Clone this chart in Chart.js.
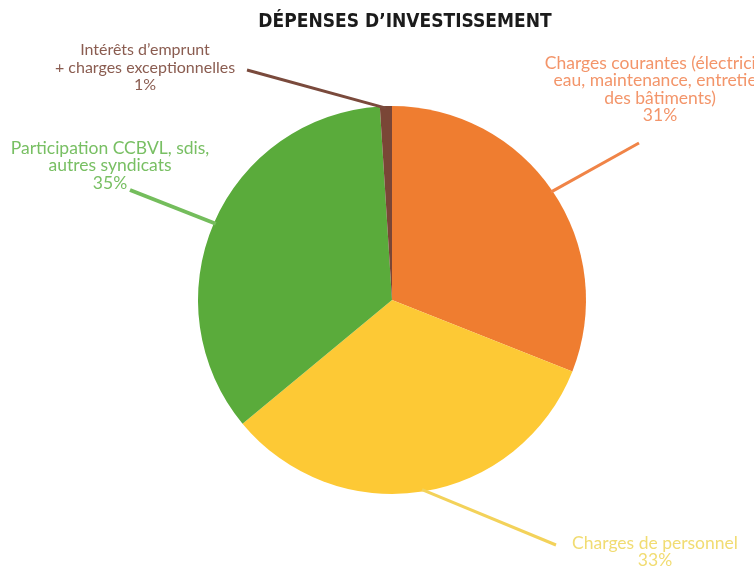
<!DOCTYPE html>
<html>
<head>
<meta charset="utf-8">
<script src="https://cdn.jsdelivr.net/npm/chart.js@4.4.1/dist/chart.umd.min.js"></script>
<style>
  html, body { margin: 0; padding: 0; background: #fff; }
  #graph { display: block; }
</style>
</head>
<body>
<canvas id="graph" width="754" height="566"></canvas>
<script>
// data (percent of spending)
const categories = [
    ['Charges courantes (électricité,', 'eau, maintenance, entretien', 'des bâtiments)'],
    ['Charges de personnel'],
    ['Participation CCBVL, sdis,', 'autres syndicats'],
    ["Intérêts d’emprunt", '+ charges exceptionnelles']
];
const values = [31, 33, 35, 1];
const sliceColors = ['#ef7d30', '#fdc935', '#5aab3b', '#7a4636'];
const labelColors = ['#f3956a', '#f1dc72', '#78bf63', '#8a5c50'];
const lineColors = ['#f08447', '#f3d25a', '#74bd5c', '#7a4a3c'];

// where each label block sits (centre x, first line y) and where its leader line stops
const labelPos = [
    { x: 660, y: 63, endX: 639, endY: 143 },
    { x: 655, y: 543, endX: 556, endY: 545 },
    { x: 110, y: 148, endX: 130, endY: 190 },
    { x: 145, y: 50, endX: 247, endY: 70 }
];

const title = 'DÉPENSES D’INVESTISSEMENT';

const pieLabels = {
    id: 'pieLabels',
    afterDatasetsDraw(chart) {
        const ctx = chart.ctx;
        const arcs = chart.getDatasetMeta(0).data;
        ctx.save();
        // title
        ctx.fillStyle = '#1b1b1b';
        ctx.font = 'bold 19px "DejaVu Sans Condensed", "DejaVu Sans"';
        ctx.textAlign = 'center';
        ctx.textBaseline = 'middle';
        ctx.fillText(title, 405, 22);

        arcs.forEach((arc, i) => {
            const mid = (arc.startAngle + arc.endAngle) / 2;
            const r = arc.outerRadius - 2;
            const sx = arc.x + Math.cos(mid) * r;
            const sy = arc.y + Math.sin(mid) * r;
            const p = labelPos[i];
            ctx.strokeStyle = lineColors[i];
            ctx.lineWidth = i == 2 ? 4 : 3;
            ctx.beginPath();
            ctx.moveTo(sx, sy);
            ctx.lineTo(p.endX, p.endY);
            ctx.stroke();

            ctx.fillStyle = labelColors[i];
            ctx.font = (i == 3 ? '16px' : '17.5px') + ' Lato';
            const lines = categories[i].concat([values[i] + '%']);
            lines.forEach((t, j) => {
                ctx.fillText(t, p.x, p.y + j * 17.5);
            });
        });
        ctx.restore();
    }
};

new Chart(document.querySelector('#graph'), {
    type: 'pie',
    data: {
        labels: categories.map(c => c.join(' ')),
        datasets: [{
            data: values,
            backgroundColor: sliceColors,
            borderWidth: 0
        }]
    },
    options: {
        responsive: false,
        animation: false,
        layout: { padding: { left: 198, right: 168, top: 106, bottom: 72 } },
        plugins: {
            legend: { display: false },
            tooltip: { enabled: false },
            title: { display: false }
        }
    },
    plugins: [pieLabels]
});
</script>
</body>
</html>
